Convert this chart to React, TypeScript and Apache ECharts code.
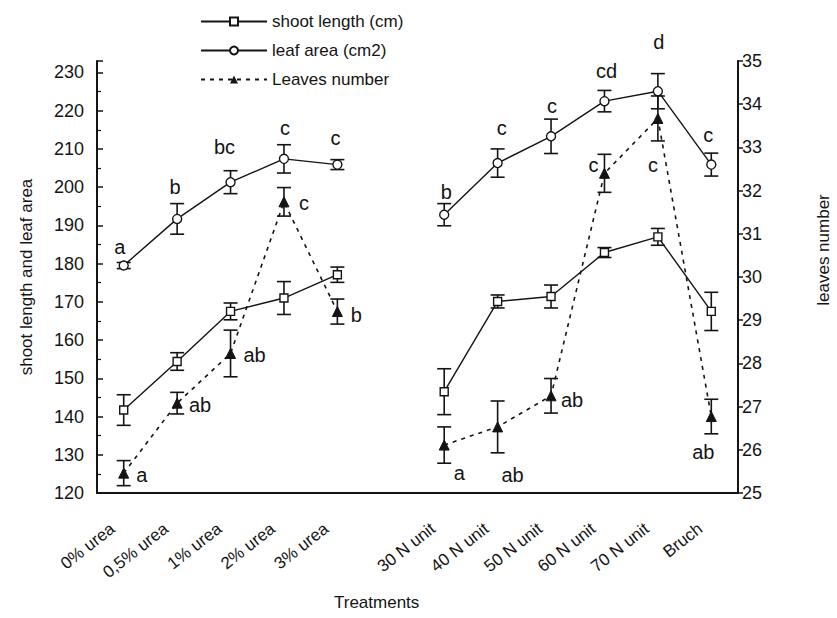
import React, { useEffect, useRef } from "react";
import * as echarts from "echarts";

const categories = ["0% urea", "0,5% urea", "1% urea", "2% urea", "3% urea", "", "30 N unit", "40 N unit", "50 N unit", "60 N unit", "70 N unit", "Bruch"];
const shootLength = [141.7, 154.4, 167.5, 171, 177.1, null, 146.5, 170.1, 171.4, 182.9, 187, 167.5];
const shootErr = [4, 2.3, 2.2, 4.3, 2, null, 6, 1.7, 3, 1.3, 2.2, 5];
const leafArea = [179.5, 191.7, 201.3, 207.4, 205.9, null, 192.8, 206.3, 213.3, 222.5, 225.1, 205.9];
const leafErr = [0.8, 4, 3, 3.7, 1.3, null, 2.9, 3.7, 4.5, 2.8, 4.6, 3];
const leavesNumber = [25.46, 27.08, 28.23, 31.74, 29.2, null, 26.11, 26.53, 27.25, 32.4, 33.67, 26.77];
const leavesErr = [0.29, 0.25, 0.54, 0.33, 0.29, null, 0.42, 0.6, 0.4, 0.44, 0.52, 0.4];
const leafLetters = ["a", "b", "bc", "c", "c", "", "b", "c", "c", "cd", "d", "c"];
const leavesLetters = ["a", "ab", "ab", "c", "b", "", "a", "ab", "ab", "c", "c", "ab"];

// label offsets (styling only)
const leafOffsets = [[-4, -19], [-2, -32], [-6, -35], [1, -31], [-2, -27], [0, 0], [2, -23], [4, -35], [1, -30], [2, -30], [1, -49], [-3, -30]];
const leavesOffsets = [[18, 2], [23, 2], [24, 2], [20, 1], [19, 3], [0, 0], [15, 28], [15, 48], [21, 4], [-11, -8], [-5, 47], [-8, 35]];

const FONT = "Liberation Sans, Arial, sans-serif";
const INK = "#141414";

function errData(vals: (number | null)[], errs: (number | null)[]) {
  const out: any[] = [];
  vals.forEach((v, i) => {
    if (v == null || errs[i] == null) return;
    out.push([i, v - (errs[i] as number), v + (errs[i] as number)]);
  });
  return out;
}

function errSeries(vals: (number | null)[], errs: (number | null)[], yAxisIndex: number) {
  return {
    type: "custom",
    yAxisIndex,
    z: 1,
    silent: true,
    encode: { x: 0, y: [1, 2] },
    data: errData(vals, errs),
    renderItem: (params: any, api: any) => {
      const x = api.value(0);
      const lo = api.coord([x, api.value(1)]);
      const hi = api.coord([x, api.value(2)]);
      const w = 7;
      const st = { stroke: INK, lineWidth: 1.6 };
      return {
        type: "group",
        children: [
          { type: "line", shape: { x1: lo[0], y1: lo[1], x2: hi[0], y2: hi[1] }, style: st },
          { type: "line", shape: { x1: lo[0] - w, y1: lo[1], x2: lo[0] + w, y2: lo[1] }, style: st },
          { type: "line", shape: { x1: hi[0] - w, y1: hi[1], x2: hi[0] + w, y2: hi[1] }, style: st },
        ],
      };
    },
  };
}

function withLetters(vals: (number | null)[], letters: string[], offsets: number[][]) {
  return vals.map((v, i) => {
    if (v == null) return null;
    return {
      value: v,
      label: {
        show: letters[i] !== "",
        position: "inside",
        offset: offsets[i],
        formatter: letters[i],
        fontSize: 20,
        fontFamily: FONT,
        color: INK,
      },
    };
  });
}

export default function App() {
  const ref = useRef<HTMLDivElement>(null);
  useEffect(() => {
    if (!ref.current) return;
    const chart = echarts.init(ref.current, null, { renderer: "svg" });
    chart.setOption({
      animation: false,
      backgroundColor: "#ffffff",
      textStyle: { fontFamily: FONT, color: INK },
      grid: { left: 97, right: 99, top: 61, bottom: 125 },
      legend: {
        orient: "vertical",
        left: 195,
        top: 8,
        itemWidth: 66,
        itemHeight: 10,
        itemGap: 12,
        data: ["shoot length (cm)", "leaf area (cm2)", "Leaves number"],
        textStyle: { fontSize: 17, fontFamily: FONT, color: INK },
      },
      xAxis: {
        type: "category",
        data: categories,
        boundaryGap: true,
        axisLine: { lineStyle: { color: INK, width: 2 } },
        axisTick: { inside: true, length: 6, lineStyle: { color: INK, width: 1.5 }, interval: 0 },
        axisLabel: { interval: 0, rotate: 38, margin: 25, padding: [0, 14, 0, 0], fontSize: 17, fontFamily: FONT, color: INK },
        splitLine: { show: false },
      },
      yAxis: [
        {
          type: "value",
          min: 120,
          max: 233,
          interval: 10,
          position: "left",
          name: "shoot length and leaf area",
          nameLocation: "middle",
          nameGap: 62,
          nameTextStyle: { fontSize: 17, fontFamily: FONT, color: INK },
          axisLine: { show: true, lineStyle: { color: INK, width: 2 } },
          axisTick: { show: true, inside: true, length: 6, lineStyle: { color: INK, width: 1.5 } },
          minorTick: { show: true, splitNumber: 2, length: 4, lineStyle: { color: INK, width: 1.2 } },
          axisLabel: {
            fontSize: 18,
            fontFamily: FONT,
            color: INK,
            margin: 13,
            formatter: (v: number) => (v % 10 === 0 ? String(v) : ""),
          },
          splitLine: { show: false },
        },
        {
          type: "value",
          min: 25,
          max: 35,
          interval: 1,
          position: "right",
          axisLine: { show: true, lineStyle: { color: INK, width: 2 } },
          axisTick: { show: true, inside: false, length: 5, lineStyle: { color: INK, width: 1.5 } },
          axisLabel: { fontSize: 18, fontFamily: FONT, color: INK, margin: 4 },
          splitLine: { show: false },
        },
      ],
      series: [
        errSeries(shootLength, shootErr, 0),
        errSeries(leafArea, leafErr, 0),
        errSeries(leavesNumber, leavesErr, 1),
        {
          name: "shoot length (cm)",
          type: "line",
          yAxisIndex: 0,
          z: 3,
          data: shootLength,
          symbol: "rect",
          symbolSize: 8,
          showAllSymbol: true,
          lineStyle: { color: INK, width: 1.4 },
          itemStyle: { color: "#ffffff", borderColor: INK, borderWidth: 1.4 },
        },
        {
          name: "leaf area (cm2)",
          type: "line",
          yAxisIndex: 0,
          z: 3,
          data: withLetters(leafArea, leafLetters, leafOffsets),
          symbol: "circle",
          symbolSize: 9,
          showAllSymbol: true,
          lineStyle: { color: INK, width: 1.4 },
          itemStyle: { color: "#ffffff", borderColor: INK, borderWidth: 1.4 },
        },
        {
          name: "Leaves number",
          type: "line",
          yAxisIndex: 1,
          z: 3,
          data: withLetters(leavesNumber, leavesLetters, leavesOffsets),
          symbol: "triangle",
          symbolSize: 10,
          showAllSymbol: true,
          lineStyle: { color: INK, width: 1.6, type: [4, 5] },
          itemStyle: { color: INK, borderColor: INK },
        },
      ],
      graphic: [
        {
          type: "text",
          left: 334,
          top: 594,
          style: { text: "Treatments", fontSize: 17, fontFamily: FONT, fill: INK },
        },
        {
          type: "text",
          x: 823,
          y: 250,
          rotation: Math.PI / 2,
          style: { text: "leaves number", fontSize: 17, fontFamily: FONT, fill: INK, align: "center", verticalAlign: "middle" },
        },
      ],
    });
    return () => chart.dispose();
  }, []);
  return <div ref={ref} style={{ width: 837, height: 618, position: "absolute", left: 0, top: 0 }} />;
}
